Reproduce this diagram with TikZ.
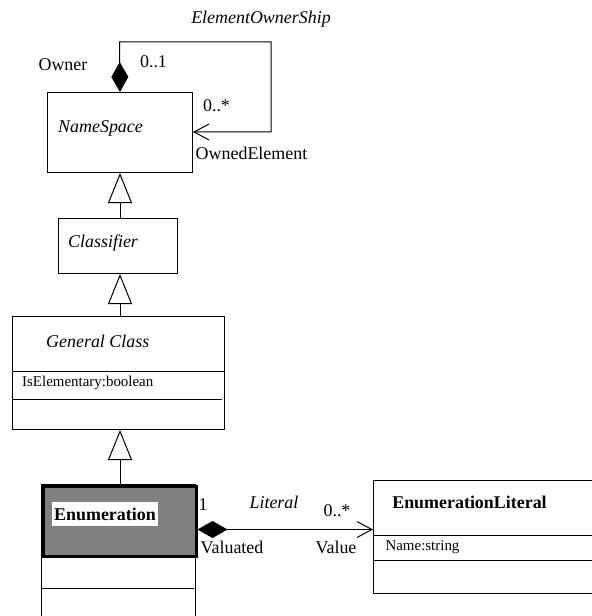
\documentclass[tikz,border=0pt]{standalone}
\usepackage{fontspec}
\setmainfont{Liberation Serif}
\usetikzlibrary{arrows.meta,calc}
\begin{document}
\begin{tikzpicture}[x=1bp,y=-1bp,
  every node/.style={inner sep=0pt},
  classbox/.style={draw, line width=1bp, rectangle, anchor=north west},
  lbl/.style={font=\fontsize{18}{20}\selectfont},
  attr/.style={font=\fontsize{15}{17}\selectfont},
  gen/.style={line width=1bp, -{Triangle[open,length=30bp,width=24bp,line width=1bp]}},
  owner/.style={line width=1bp, {Diamond[length=30bp,width=17bp]}-{Straight Barb[length=15bp,width=16bp,line width=1bp]}},
]
\useasboundingbox (0,0) rectangle (592,616);
\fill[white] (0,0) rectangle (592,616);
\clip (0,0) rectangle (592,616);

% NameSpace
\node[classbox, minimum width=145bp, minimum height=80bp] (ns) at (47,92) {};
\node[lbl, anchor=west] (nsname) at (58,128) {\itshape NameSpace};

% self association ElementOwnerShip
\coordinate (c1) at (119.5,42);
\coordinate (c2) at (271,42);
\coordinate (c3) at (271,132);
\draw[owner] (ns.north) -- (c1) -- (c2) -- (c3) -- (c3 -| ns.east);
\node[lbl] (eos) at (261,19) {\itshape ElementOwnerShip};
\node[lbl] (ownr) at (63,65) {Owner};
\node[lbl] (m01) at (153.5,62) {0..1};
\node[lbl] (m0s) at (216.5,106) {0..*};
\node[lbl] (owned) at (251.5,153) {OwnedElement};

% Classifier
\node[classbox, minimum width=119bp, minimum height=55bp] (cls) at (58,218) {};
\node[lbl, anchor=west] (clsname) at (68,243) {\itshape Classifier};

% General Class
\node[classbox, minimum width=212bp, minimum height=113bp] (gc) at (12,316) {};
\draw[line width=1bp] ([yshift=-55bp]gc.north west) -- ([yshift=-55bp]gc.north east);
\draw[line width=1bp] ([yshift=-83bp]gc.north west) -- ([yshift=-83bp,xshift=-3bp]gc.north east);
\node[lbl, anchor=west] (gcname) at (46,341) {\itshape General Class};
\node[attr, anchor=west] (gcattr) at (22,383) {IsElementary:boolean};

% Enumeration
\node[classbox, minimum width=154bp, minimum height=200bp] (enbody) at (41,484) {};
\draw[line width=1bp] ([yshift=-104bp]enbody.north west) -- ([yshift=-104bp,xshift=-2bp]enbody.north east);
\node[classbox, fill={rgb,255:red,128;green,128;blue,128}, line width=3bp,
      minimum width=153bp, minimum height=70bp] (enhead) at (41.5,484.5) {};
\node[lbl, fill=white, inner xsep=2bp, minimum height=24bp] (enname) at (105,514) {\bfseries Enumeration};

% EnumerationLiteral
\node[classbox, minimum width=260bp, minimum height=113bp] (lit) at (373,480) {};
\draw[line width=1bp] ([yshift=-55bp]lit.north west) -- ([yshift=-55bp]lit.north east);
\draw[line width=1bp] ([yshift=-80bp]lit.north west) -- ([yshift=-80bp]lit.north east);
\node[lbl] (litname) at (469.5,502) {\bfseries EnumerationLiteral};
\node[attr] (litattr) at (422.5,547) {Name:string};

% generalizations
\draw[gen] (ns.south |- cls.north) -- (ns.south);
\draw[gen] (ns.south |- gc.north) -- (ns.south |- cls.south);
\draw[gen] (ns.south |- enbody.north) -- (ns.south |- gc.south);

% association Literal
\draw[owner] ([yshift=-8.5bp]enhead.east) -- ([yshift=-8.5bp]enhead.east -| lit.west);
\node[lbl] (one) at (203,505) {1};
\node[lbl] (litassoc) at (274,502) {\itshape Literal};
\node[lbl] (m0s2) at (337,511) {0..*};
\node[lbl] (valuated) at (232,547) {Valuated};
\node[lbl] (value) at (336,547) {Value};
\end{tikzpicture}
\end{document}
